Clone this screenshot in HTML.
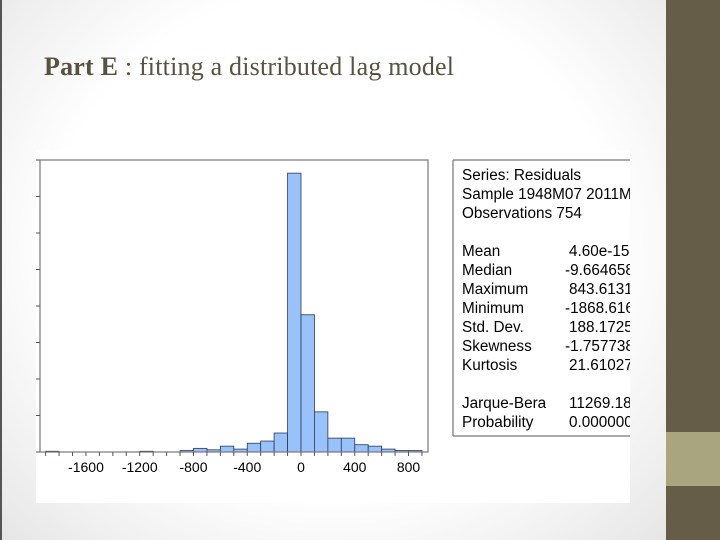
<!DOCTYPE html>
<html><head><meta charset="utf-8"><style>
body{margin:0;width:720px;height:540px;overflow:hidden;background:#fff;font-family:"Liberation Sans",sans-serif}
#slide{position:absolute;left:0;top:0;width:666px;height:540px;background:radial-gradient(ellipse at 50% 45%,#fff 60%,#e6e6e6 100%);border-left:2px solid #555;box-sizing:border-box}
#side{position:absolute;left:666px;top:0;width:54px;height:540px;background:#655d48}
#band{position:absolute;left:666px;top:432px;width:54px;height:54px;background:#a9a57f}
#title{position:absolute;left:44px;top:52px;font-family:"Liberation Serif",serif;font-size:26px;color:#5a5240;white-space:nowrap;letter-spacing:0.2px}
</style></head><body>
<div id="slide"></div>
<div id="side"></div>
<div id="band"></div>
<div id="title"><b>Part E</b> : fitting a distributed lag model</div>
<svg id="chart" width="720" height="540" style="position:absolute;left:0;top:0">
<rect x="36" y="150" width="594" height="353" fill="#fff"/>
<g id="bars"></g>
<rect x="40" y="160" width="388" height="292" fill="none" stroke="#777" stroke-width="1.2"/>
<g id="axes" font-size="14" fill="#000"></g>
<defs><clipPath id="clipStats"><rect x="450" y="150" width="180" height="300"/></clipPath></defs>
<g clip-path="url(#clipStats)">
<line x1="453" y1="160" x2="640" y2="160" stroke="#777" stroke-width="1.2"/>
<line x1="453" y1="160" x2="453" y2="436" stroke="#777" stroke-width="1.2"/>
<line x1="453" y1="436" x2="640" y2="436" stroke="#777" stroke-width="1.2"/>
<g id="stats" font-size="15.3" fill="#000"></g>
</g>
</svg>
<script>
const binStarts=[-1900,-1800,-1700,-1600,-1500,-1400,-1300,-1200,-1100,-1000,-900,-800,-700,-600,-500,-400,-300,-200,-100,0,100,200,300,400,500,600,700,800];
const counts=[1,0,0,0,0,0,0,1,0,0,2,5,3,8,4,12,15,26,382,188,55,19,19,10,8,4,2,2];
const xTicks=[-1600,-1200,-800,-400,0,400,800];
const yTicks=[0,50,100,150,200,250,300,350,400];
const statLabels=["Series: Residuals","Sample 1948M07 2011M07","Observations 754","","Mean","Median","Maximum","Minimum","Std. Dev.","Skewness","Kurtosis","","Jarque-Bera","Probability"];
const statValues=["","","","","4.60e-15","-9.664658","843.6131","-1868.616","188.1725","-1.757738","21.61027","","11269.18","0.000000"];
const NS="http://www.w3.org/2000/svg";
const X=v=>301+(v)*0.1344;
const Y=c=>452-c*0.73;
const bars=document.getElementById('bars');
binStarts.forEach((b,i)=>{
  if(counts[i]<=0)return;
  const r=document.createElementNS(NS,'rect');
  r.setAttribute('x',X(b));r.setAttribute('width',X(b+100)-X(b));
  r.setAttribute('y',Y(counts[i]));r.setAttribute('height',Y(0)-Y(counts[i]));
  r.setAttribute('fill','#99c1fa');r.setAttribute('stroke','#2a3a55');r.setAttribute('stroke-width','0.8');
  
  
  bars.appendChild(r);
});
const ax=document.getElementById('axes');
for(let v=-1900;v<=900;v+=100){
  const l=document.createElementNS(NS,'line');
  l.setAttribute('x1',X(v));l.setAttribute('x2',X(v));l.setAttribute('y1',452);l.setAttribute('y2',456);l.setAttribute('stroke','#555');
  
  
  ax.appendChild(l);
}
xTicks.forEach(v=>{
  const t=document.createElementNS(NS,'text');
  t.setAttribute('x',X(v));t.setAttribute('y',472);t.setAttribute('text-anchor','middle');t.textContent=v;
  
  
  ax.appendChild(t);
});
yTicks.forEach(v=>{
  const l=document.createElementNS(NS,'line');
  l.setAttribute('x1',36);l.setAttribute('x2',40);l.setAttribute('y1',Y(v));l.setAttribute('y2',Y(v));l.setAttribute('stroke','#555');
  
  
  ax.appendChild(l);
});
const st=document.getElementById('stats');
statLabels.forEach((s,i)=>{
  const y=180+i*19;
  const t=document.createElementNS(NS,'text');
  t.setAttribute('x',462);t.setAttribute('y',y);t.textContent=s;
  
  
  st.appendChild(t);
  if(statValues[i]){
    const v=document.createElementNS(NS,'text');
    v.setAttribute('x',statValues[i][0]==='-'?565:569);v.setAttribute('y',y);v.textContent=statValues[i];
    
    
    st.appendChild(v);
  }
});
</script>
</body></html>
